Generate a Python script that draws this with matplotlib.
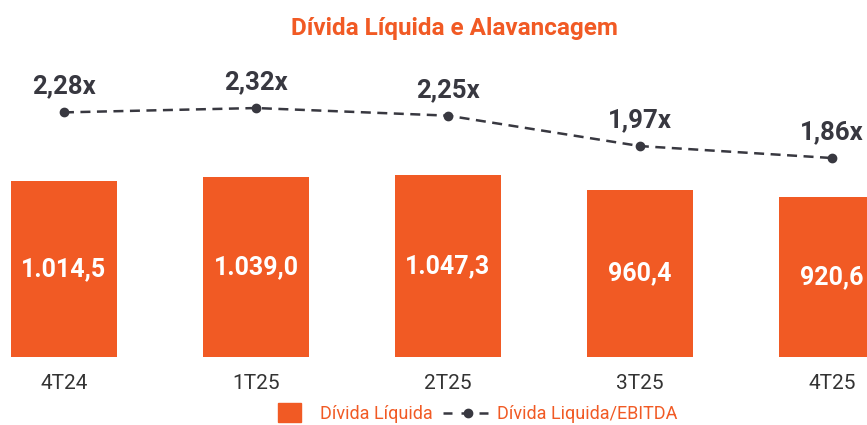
import matplotlib.pyplot as plt
from matplotlib.patches import Patch, Rectangle
from matplotlib.lines import Line2D
from matplotlib.legend_handler import HandlerPatch

# dados
periodos = ["4T24", "1T25", "2T25", "3T25", "4T25"]
divida_liquida = [1014.5, 1039.0, 1047.3, 960.4, 920.6]
alavancagem = [2.28, 2.32, 2.25, 1.97, 1.86]
rotulos_divida = ["1.014,5", "1.039,0", "1.047,3", "960,4", "920,6"]
rotulos_alav = ["2,28x", "2,32x", "2,25x", "1,97x", "1,86x"]

laranja = "#F15A24"
cinza = "#383840"
fonte = ["Roboto", "DejaVu Sans"]

fig = plt.figure(figsize=(8.67, 4.25), dpi=100)
ax = fig.add_axes([0, 0.16, 1, 0.6988])
x = list(range(len(periodos)))

ax.bar(x, divida_liquida, width=0.55, color=laranja)
ax.set_xlim(-0.333, 4.182)
ax.set_ylim(0, 1712)
for xi, v, r in zip(x, divida_liquida, rotulos_divida):
    ax.text(xi, v / 2, r, ha="center", va="center", color="white",
            fontsize=18, fontweight="bold", family=fonte)

ax2 = ax.twinx()
ax2.plot(x, alavancagem, color=cinza, lw=1.8, dashes=(4, 2.6),
         marker="o", markersize=6)
ax2.set_ylim(0.029, 2.762)
for xi, v, r in zip(x, alavancagem, rotulos_alav):
    ax2.annotate(r, (xi, v), xytext=(0, 10), textcoords="offset points",
                 ha="center", va="bottom", color=cinza, fontsize=18.5,
                 fontweight="bold", family=fonte)

for a in (ax, ax2):
    for s in a.spines.values():
        s.set_visible(False)
    a.set_yticks([])
ax.set_xticks(x)
ax.set_xticklabels(periodos, fontsize=15, color="#333333", family=fonte)
ax.tick_params(axis="x", length=0, pad=12)

fig.text(0.524, 0.933, "Dívida Líquida e Alavancagem", ha="center",
         va="center", color=laranja, fontsize=17.5, fontweight="bold",
         family=fonte)


# quadrado da legenda menor que a caixa do handle
def quadrado(legend, orig_handle, xdescent, ydescent, width, height, fontsize):
    w, h = 16.5, 14
    return Rectangle((-xdescent + (width - w) / 2, -ydescent + (height - h) / 2), w, h)


handles = [
    Patch(color=laranja, label="Dívida Líquida"),
    Line2D([], [], color=cinza, lw=1.8, dashes=(3.6, 3.6), marker="o",
           markersize=6, label="Dívida Liquida/EBITDA"),
]
fig.legend(handles=handles, loc="center", bbox_to_anchor=(0.544, 0.026),
           ncol=2, frameon=False, labelcolor=laranja, handlelength=2.7,
           columnspacing=0.6, handletextpad=0.3,
           handler_map={Patch: HandlerPatch(patch_func=quadrado)},
           prop={"family": fonte, "size": 13})

fig.savefig("out.png", dpi=100)
